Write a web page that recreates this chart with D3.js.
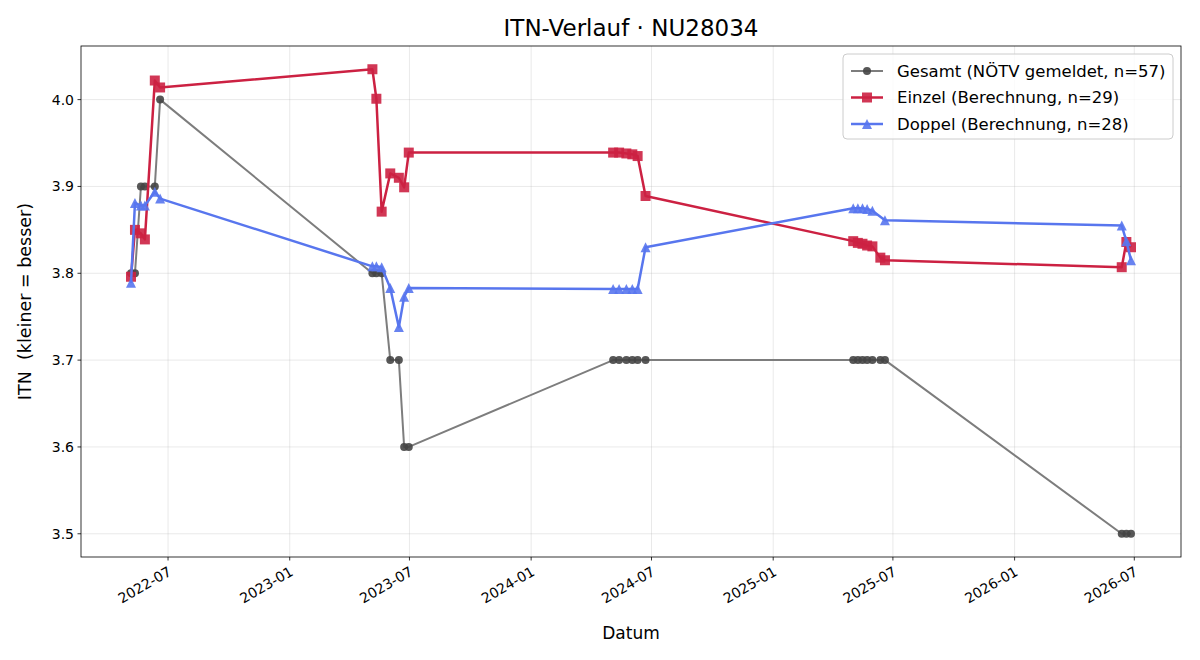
<!DOCTYPE html>
<html>
<head>
<meta charset="utf-8">
<script src="https://cdn.jsdelivr.net/npm/d3@7"></script>
<style>
  body { margin: 0; background: #fff; }
  svg { font-family: "DejaVu Sans", sans-serif; }
</style>
</head>
<body>
<svg id="chart" width="1200" height="660"></svg>
<script>
// Einzel (singles) – 29 matches
var einzelDates = [
  "2022-05-06", "2022-05-12", "2022-05-21", "2022-05-27", "2022-06-11", "2022-06-19",
  "2023-05-06", "2023-05-12", "2023-05-20", "2023-06-02", "2023-06-15", "2023-06-23", "2023-06-30",
  "2024-05-04", "2024-05-13", "2024-05-24", "2024-06-02", "2024-06-10", "2024-06-22",
  "2025-05-02", "2025-05-09", "2025-05-16", "2025-05-23", "2025-05-31", "2025-06-12", "2025-06-19",
  "2026-06-12", "2026-06-19", "2026-06-26"
];
var einzelValues = [
  3.796, 3.850, 3.846, 3.839, 4.022, 4.014,
  4.035, 4.001, 3.871, 3.915, 3.910, 3.899, 3.939,
  3.939, 3.939, 3.938, 3.937, 3.935, 3.889,
  3.837, 3.835, 3.834, 3.832, 3.831, 3.818, 3.815,
  3.807, 3.836, 3.830
];

// Doppel (doubles) – 28 matches
var doppelDates = [
  "2022-05-06", "2022-05-12", "2022-05-21", "2022-05-27", "2022-06-11", "2022-06-19",
  "2023-05-06", "2023-05-12", "2023-05-20", "2023-06-02", "2023-06-15", "2023-06-23", "2023-06-30",
  "2024-05-04", "2024-05-13", "2024-05-24", "2024-06-02", "2024-06-10", "2024-06-22",
  "2025-05-02", "2025-05-09", "2025-05-16", "2025-05-23", "2025-05-31", "2025-06-19",
  "2026-06-12", "2026-06-19", "2026-06-26"
];
var doppelValues = [
  3.789, 3.881, 3.878, 3.878, 3.894, 3.886,
  3.808, 3.808, 3.807, 3.783, 3.738, 3.773, 3.783,
  3.782, 3.782, 3.782, 3.782, 3.782, 3.830,
  3.875, 3.875, 3.875, 3.874, 3.872, 3.861,
  3.855, 3.837, 3.815
];

// Gesamt (reported by NÖTV) – one value per match day
var gesamtDates = einzelDates.slice();
var gesamtValues = [
  3.8, 3.8, 3.9, 3.9, 3.9, 4.0,
  3.8, 3.8, 3.8, 3.7, 3.7, 3.6, 3.6,
  3.7, 3.7, 3.7, 3.7, 3.7, 3.7,
  3.7, 3.7, 3.7, 3.7, 3.7, 3.7, 3.7,
  3.5, 3.5, 3.5
];

var yTicks = [3.5, 3.6, 3.7, 3.8, 3.9, 4.0];

var parse = d3.timeParse("%Y-%m-%d");
function toPoints(dates, values) {
  return dates.map((d, i) => ({ date: parse(d), value: values[i] }));
}

var series = [
  { label: "Gesamt (NÖTV gemeldet, n=57)", data: toPoints(gesamtDates, gesamtValues),
    line: "#7d7d7d", fill: "#454545", width: 2, marker: "circle", size: 8 },
  { label: "Einzel (Berechnung, n=29)", data: toPoints(einzelDates, einzelValues),
    line: "#cc2142", fill: "#cc2142", width: 2.5, marker: "square", size: 10 },
  { label: "Doppel (Berechnung, n=28)", data: toPoints(doppelDates, doppelValues),
    line: "#5876ee", fill: "#5876ee", width: 2.5, marker: "triangle", size: 10 }
];

var svg = d3.select("#chart");
var pLeft = 81, pRight = 1181, pTop = 46, pBottom = 557;

// matplotlib-like 5% padding on both axes
var allPts = series.flatMap(s => s.data);
var xExt = d3.extent(allPts, d => +d.date);
var xPad = (xExt[1] - xExt[0]) * 0.05;
var yExt = d3.extent(allPts, d => d.value);
var yPad = (yExt[1] - yExt[0]) * 0.05;

var x = d3.scaleTime()
  .domain([new Date(xExt[0] - xPad), new Date(xExt[1] + xPad)])
  .range([pLeft, pRight]);
var y = d3.scaleLinear()
  .domain([yExt[0] - yPad, yExt[1] + yPad])
  .range([pBottom, pTop]);

var xTicks = x.ticks(d3.timeMonth.every(6));

// grid
var grid = svg.append("g");
grid.selectAll(".gx").data(xTicks).enter().append("line")
  .attr("x1", d => x(d)).attr("x2", d => x(d))
  .attr("y1", pTop).attr("y2", pBottom)
  .attr("stroke", "#b0b0b0").attr("stroke-opacity", 0.35).attr("stroke-width", 0.8);
grid.selectAll(".gy").data(yTicks).enter().append("line")
  .attr("x1", pLeft).attr("x2", pRight)
  .attr("y1", d => y(d)).attr("y2", d => y(d))
  .attr("stroke", "#b0b0b0").attr("stroke-opacity", 0.35).attr("stroke-width", 0.8);

// series
var line = d3.line().x(d => x(d.date)).y(d => y(d.value));
var plot = svg.append("g");

function markerPath(type, s) {
  var h = s / 2;
  if (type === "square") return `M${-h},${-h}H${h}V${h}H${-h}Z`;
  if (type === "triangle") return `M0,${-h}L${h},${h}L${-h},${h}Z`;
  return d3.symbol(d3.symbolCircle, Math.PI * h * h)();
}

series.forEach(s => {
  var g = plot.append("g");
  g.append("path")
    .attr("d", line(s.data))
    .attr("fill", "none")
    .attr("stroke", s.line)
    .attr("stroke-width", s.width)
    .attr("stroke-linejoin", "round");
  g.selectAll("path.m").data(s.data).enter().append("path")
    .attr("class", "m")
    .attr("d", markerPath(s.marker, s.size))
    .attr("transform", d => `translate(${x(d.date)},${y(d.value)})`)
    .attr("fill", s.fill)
    .attr("fill-opacity", 0.9);
});

// frame
svg.append("rect")
  .attr("x", pLeft).attr("y", pTop)
  .attr("width", pRight - pLeft).attr("height", pBottom - pTop)
  .attr("fill", "none").attr("stroke", "#000").attr("stroke-width", 0.8);

// x axis ticks + rotated labels
var fmt = d3.timeFormat("%Y-%m");
var xa = svg.append("g");
xTicks.forEach(t => {
  xa.append("line")
    .attr("x1", x(t)).attr("x2", x(t))
    .attr("y1", pBottom).attr("y2", pBottom + 3.5)
    .attr("stroke", "#000").attr("stroke-width", 0.8);
  xa.append("text")
    .attr("transform", `translate(${x(t) - 1},${pBottom + 8}) rotate(-30)`)
    .attr("text-anchor", "end")
    .attr("dy", "0.78em")
    .attr("font-size", 14)
    .text(fmt(t));
});

// y axis
var ya = svg.append("g");
yTicks.forEach(t => {
  ya.append("line")
    .attr("x1", pLeft - 3.5).attr("x2", pLeft)
    .attr("y1", y(t)).attr("y2", y(t))
    .attr("stroke", "#000").attr("stroke-width", 0.8);
  ya.append("text")
    .attr("x", pLeft - 7).attr("y", y(t))
    .attr("text-anchor", "end")
    .attr("dy", "0.35em")
    .attr("font-size", 14)
    .text(d3.format(".1f")(t));
});

// labels + title
svg.append("text")
  .attr("x", (pLeft + pRight) / 2).attr("y", 639)
  .attr("text-anchor", "middle").attr("font-size", 17)
  .text("Datum");
svg.append("text")
  .attr("transform", `translate(31,${(pTop + pBottom) / 2}) rotate(-90)`)
  .attr("text-anchor", "middle").attr("font-size", 17.5)
  .attr("xml:space", "preserve")
  .text("ITN  (kleiner = besser)");
svg.append("text")
  .attr("x", (pLeft + pRight) / 2).attr("y", 36)
  .attr("text-anchor", "middle").attr("font-size", 23)
  .text("ITN-Verlauf · NU28034");

// legend
var lg = svg.append("g").attr("transform", "translate(843,54)");
lg.append("rect")
  .attr("width", 330).attr("height", 85).attr("rx", 4)
  .attr("fill", "#fff").attr("fill-opacity", 0.8)
  .attr("stroke", "#cccccc").attr("stroke-width", 1);
series.forEach((s, i) => {
  var ly = 17 + i * 26.5;
  lg.append("line")
    .attr("x1", 8).attr("x2", 40).attr("y1", ly).attr("y2", ly)
    .attr("stroke", s.line).attr("stroke-width", s.width);
  lg.append("path")
    .attr("d", markerPath(s.marker, s.size))
    .attr("transform", `translate(24,${ly})`)
    .attr("fill", s.fill).attr("fill-opacity", 0.9);
  lg.append("text")
    .attr("x", 54).attr("y", ly).attr("dy", "0.35em")
    .attr("font-size", 16.5)
    .text(s.label);
});
</script>
</body>
</html>
